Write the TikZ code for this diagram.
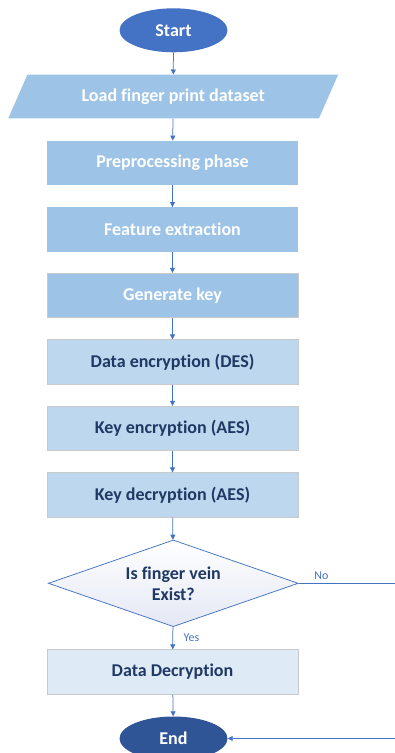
\documentclass[tikz,border=0pt]{standalone}
\usepackage{fontspec}
\setmainfont{Carlito}[Ligatures={NoCommon}]
\usetikzlibrary{arrows.meta,shapes.geometric}

\definecolor{startblue}{HTML}{4472C4}
\definecolor{endblue}{HTML}{2F5597}
\definecolor{stepmid}{HTML}{9DC3E6}
\definecolor{steplight}{HTML}{BDD7EE}
\definecolor{steppale}{HTML}{DEEBF7}
\definecolor{stepedge}{HTML}{CACACA}
\definecolor{navytext}{HTML}{1F3864}
\definecolor{linkblue}{HTML}{4472C4}
\definecolor{decshade}{HTML}{E4E8F4}

\tikzset{
  x=1pt, y=-1pt,
  boxfont/.style={font=\fontsize{18}{21}\selectfont\bfseries},
  terminal/.style={ellipse, boxfont, text=white, minimum width=108pt, minimum height=44pt, inner sep=0pt},
  iobox/.style={trapezium, trapezium left angle=52.5, trapezium right angle=127.5,
    trapezium stretches=true, boxfont, text=white, fill=stepmid,
    minimum width=330pt, minimum height=43.6pt, inner sep=0pt},
  stepbox/.style={rectangle, boxfont, minimum width=251pt, minimum height=44.5pt, inner sep=0pt},
  darkbox/.style={stepbox, draw=stepedge, line width=0.8pt, text=navytext},
  decision/.style={diamond, aspect=2.87, boxfont, align=center, text=navytext,
    draw=linkblue, line width=0.75pt, top color=white, bottom color=decshade,
    minimum width=250pt, minimum height=86.7pt, inner sep=0pt},
  link/.style={draw=linkblue, line width=0.75pt, -{Triangle[length=5pt,width=5pt]}},
  tag/.style={font=\fontsize{12}{14}\selectfont, text=linkblue, inner sep=0pt}
}

\begin{document}
\begin{tikzpicture}
\useasboundingbox (0,0) rectangle (394,753);

\node[terminal, fill=startblue] (start) at (173.5,30.3) {Start};
\node[iobox] (load) at (173.2,96.5) {Load finger print dataset};
\node[stepbox, fill=stepmid, text=white] (prep) at (172.5,163) {Preprocessing phase};
\node[stepbox, fill=stepmid, text=white] (feat) at (172.5,229.5) {Feature extraction};
\node[stepbox, fill=stepmid, text=white, draw=stepedge, line width=0.8pt] (genkey) at (172.5,295.5) {Generate key};
\node[darkbox, fill=steplight] (desenc) at (172.5,362) {Data encryption (DES)};
\node[darkbox, fill=steplight] (keyenc) at (172.5,428.5) {Key encryption (AES)};
\node[darkbox, fill=steplight] (keydec) at (172.5,495) {Key decryption (AES)};
\node[decision] (check) at (173.3,583.3) {Is finger vein\\Exist?};
\node[darkbox, fill=steppale] (datadec) at (172.5,672) {Data Decryption};
\node[terminal, fill=endblue] (end) at (173.5,738.5) {End};

% main flow
\draw[link] (start) -- (load);
\draw[link] (load) -- (prep);
\draw[link] (prep) -- (feat);
\draw[link] (feat) -- (genkey);
\draw[link] (genkey) -- (desenc);
\draw[link] (desenc) -- (keyenc);
\draw[link] (keyenc) -- (keydec);
\draw[link] (keydec) -- (check);
\draw[link] (check) -- (datadec);
\draw[link] (datadec) -- (end);

% rejection branch loops round the right side into End
\coordinate (noturn) at (397,583.3);
\coordinate (noback) at (397,738.5);
\draw[link] (check.east) -- (noturn) -- (noback) -- (end.east);

\node[tag] (nolabel) at (321.5,575.3) {No};
\node[tag] (yeslabel) at (191.5,638) {Yes};
\end{tikzpicture}
\end{document}
